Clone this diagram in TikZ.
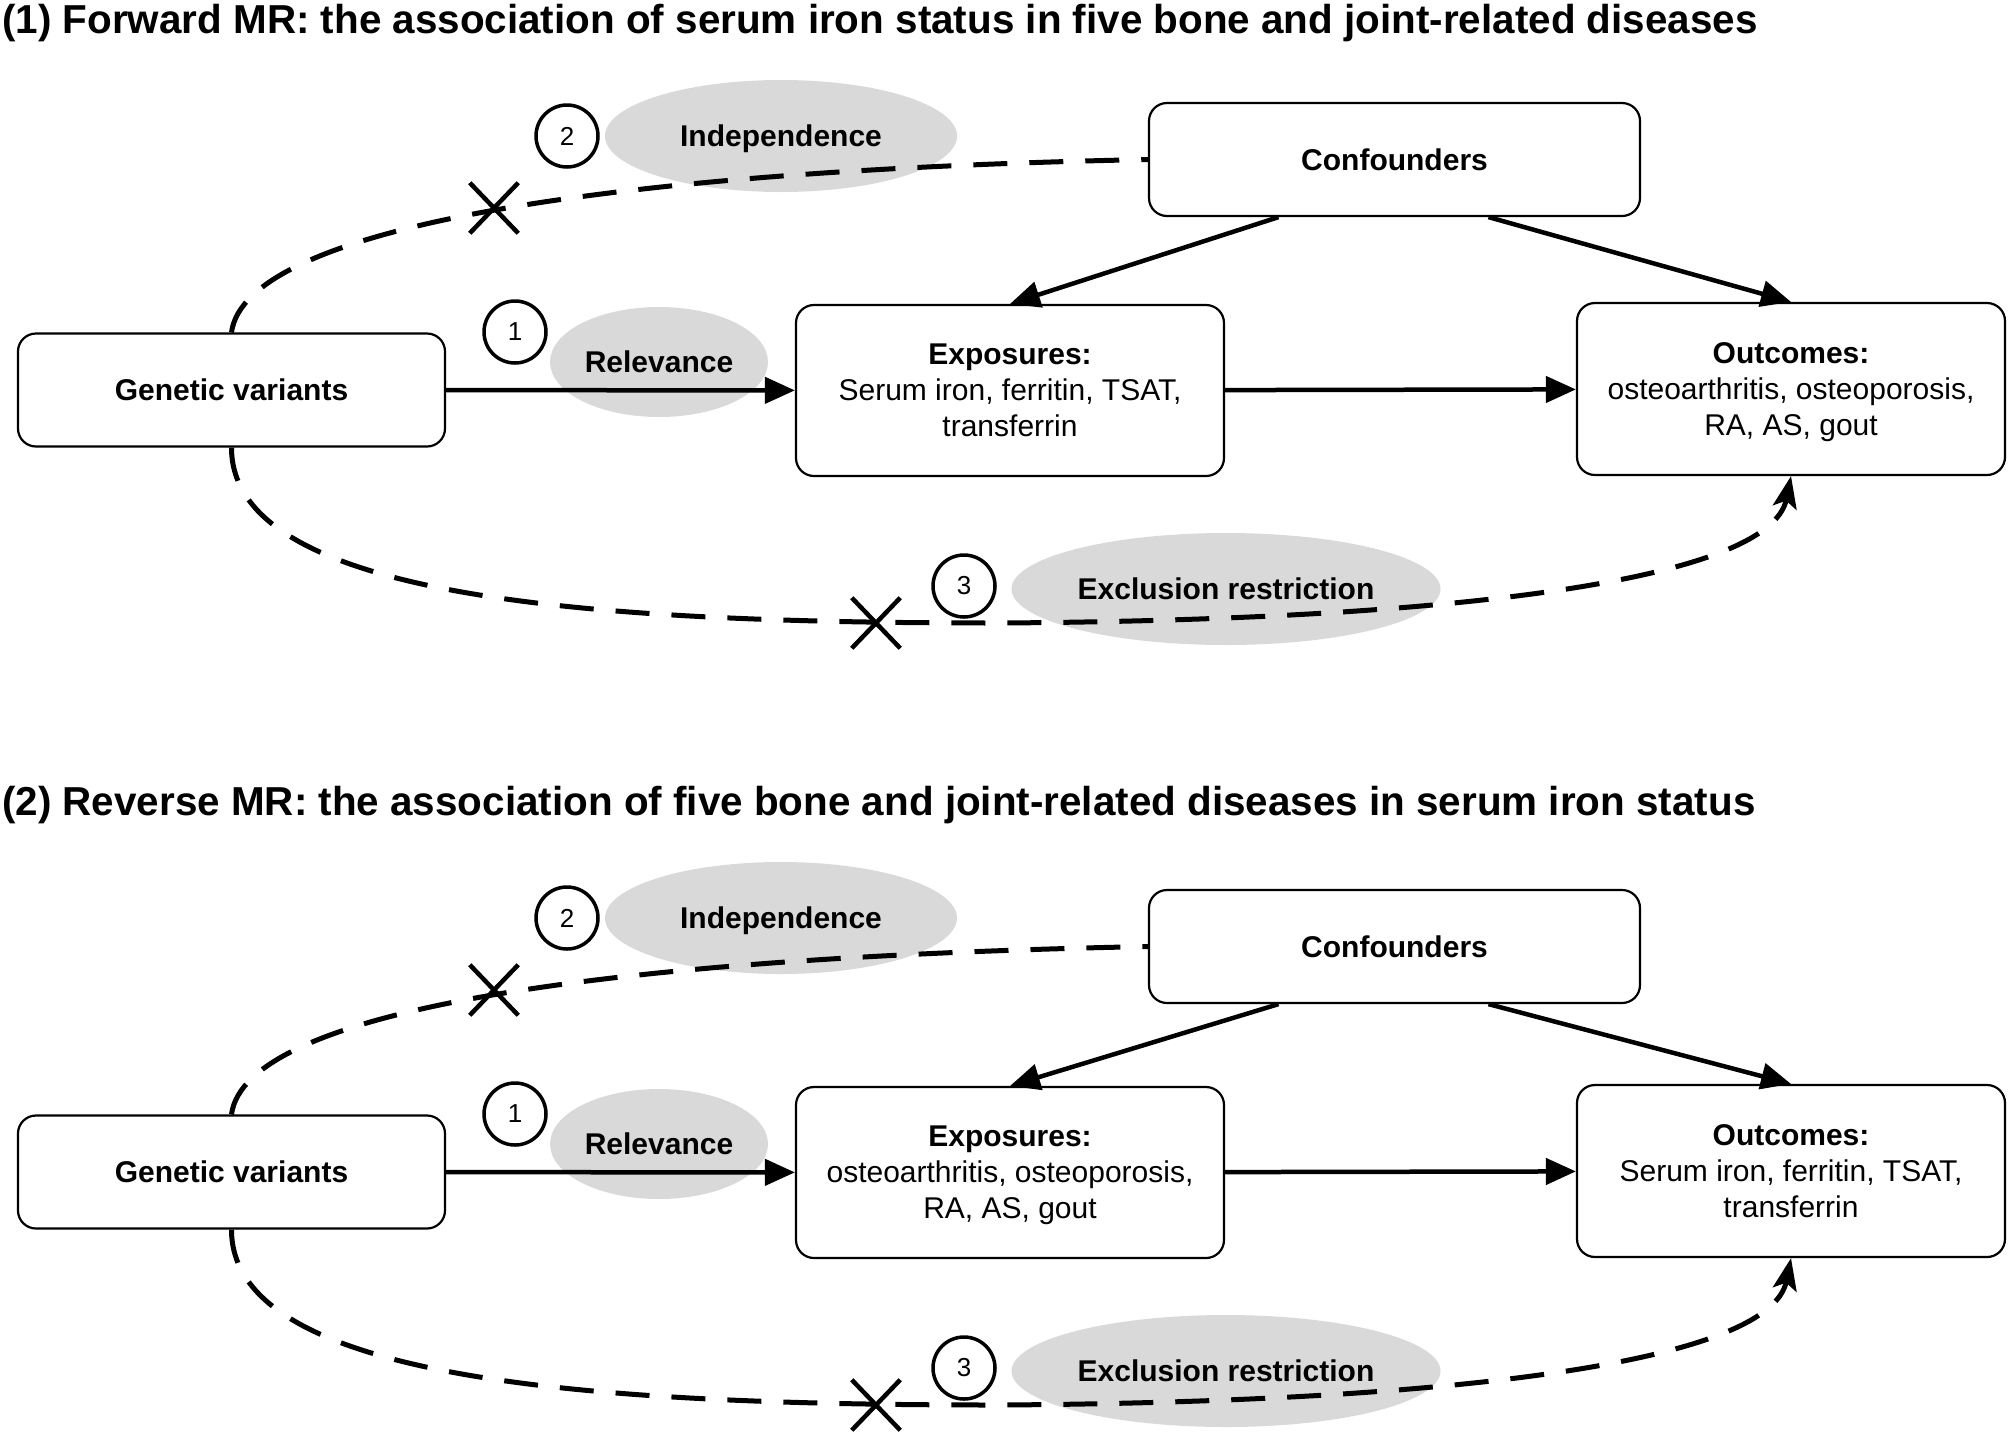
\documentclass[tikz,border=0pt]{standalone}
\usepackage{fontspec}
\setmainfont{Liberation Sans}
\usetikzlibrary{arrows.meta,shapes.geometric,shapes.misc,calc}
\definecolor{ellgray}{RGB}{217,217,217}
\tikzset{
  box/.style={draw, line width=2.2pt, rounded corners=18pt, inner sep=0pt, align=center, font=\fontsize{30}{36}\selectfont},
  lbl/.style={ellipse, fill=ellgray, inner sep=0pt, text depth=0pt, font=\fontsize{30}{36}\selectfont\bfseries},
  num/.style={circle, draw, line width=3.5pt, minimum size=62pt, inner sep=0pt, font=\fontsize{26}{30}\selectfont},
  xmark/.style={cross out, draw, line width=4.5pt, minimum width=44pt, minimum height=46pt, inner sep=0pt},
  arr/.style={line width=4.5pt, -{Triangle[length=30pt,width=26pt]}},
  dsh/.style={line width=5pt, dash pattern=on 34pt off 22pt},
  ttl/.style={anchor=base west, font=\fontsize{40.4}{48}\selectfont\bfseries, inner sep=0pt}
}
\newcommand\mrpanel[6]{%
  \node[ttl] (title#1) at (2,33+#2) {#4};
  \node[lbl, minimum width=218pt, minimum height=110pt] (rel#1) at (659,362+#2) {Relevance};
  \node[lbl, minimum width=352pt, minimum height=112pt] (ind#1) at (781,136+#2) {Independence};
  \node[lbl, minimum width=429pt, minimum height=112pt] (exc#1) at (1226,589+#2) {Exclusion restriction};
  \node[box, minimum width=427pt, minimum height=113pt] (gen#1) at (231.5,390+#2) {\bfseries Genetic variants};
  \node[box, minimum width=428pt, minimum height=171pt] (exp#1) at (1010,390.5+#2) {\textbf{Exposures:}\\#5};
  \node[box, minimum width=491pt, minimum height=113pt] (conf#1) at (1394.5,159.5+#3) {\bfseries Confounders};
  \node[box, minimum width=428pt, minimum height=172pt] (out#1) at (1791,389+#2) {\textbf{Outcomes:}\\#6};
  \coordinate (low#1) at (1000,623+#2);
  \draw[dsh] (gen#1.north) .. controls +(14,-104) and +(-549,11) .. (conf#1.west);
  \draw[dsh, -{Stealth[length=32pt,width=24pt,inset=7pt]}] (gen#1.south) .. controls +(0,153) and +(-400,0) .. (low#1) .. controls +(450,-3) and +(-21,105) .. (out#1.south);
  \draw[arr] (gen#1) -- (exp#1);
  \draw[arr] (exp#1) -- (out#1);
  \draw[arr] ($(conf#1.south)+(-116,0)$) -- (exp#1.north);
  \draw[arr] ($(conf#1.south)+(94,0)$) -- (out#1.north);
  \node[num] (one#1) at (515,332+#2) {1};
  \node[num] (two#1) at (567,136+#2) {2};
  \node[num] (three#1) at (964,586+#2) {3};
  \node[xmark] (xa#1) at (494,208+#2) {};
  \node[xmark] (xb#1) at (876,623+#2) {};
}
\begin{document}
\begin{tikzpicture}[x=1pt,y=-1pt]
\useasboundingbox (0,0) rectangle (2010,1433);
\mrpanel{A}{0}{0}{(1) Forward MR: the association of serum iron status in five bone and joint-related diseases}{Serum iron, ferritin, TSAT,\\\smash{transferrin}}{osteoarthritis, osteoporosis,\\\smash{RA, AS, gout}}
\mrpanel{B}{782}{787}{(2) Reverse MR: the association of five bone and joint-related diseases in serum iron status}{osteoarthritis, osteoporosis,\\\smash{RA, AS, gout}}{Serum iron, ferritin, TSAT,\\\smash{transferrin}}
\end{tikzpicture}
\end{document}
